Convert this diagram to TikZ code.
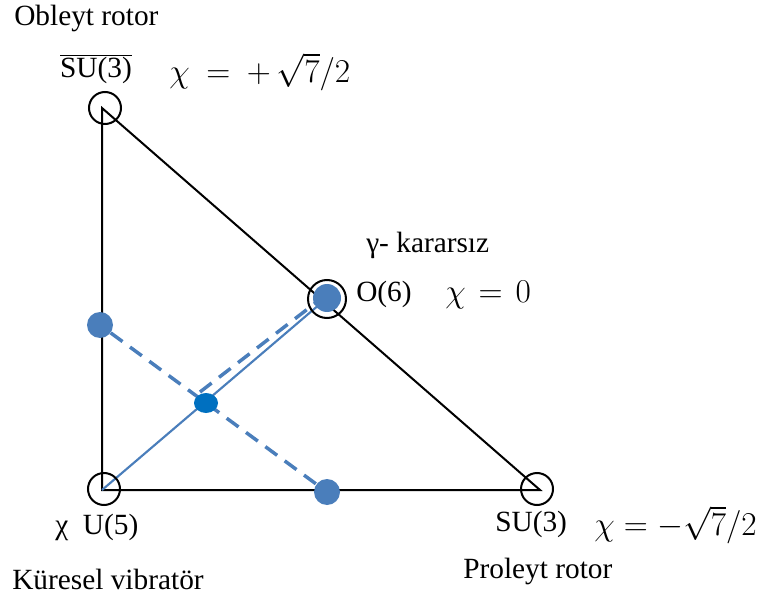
\RequirePackage{fix-cm}
\documentclass[tikz,border=0pt]{standalone}
\usepackage{fontspec}
\setmainfont{Liberation Serif}
\usetikzlibrary{shapes.geometric}
\definecolor{dotblue}{HTML}{4A7EBB}
\definecolor{midblue}{HTML}{0070C0}
\newcommand\wideeq[2][9mu]{$\thickmuskip=#1\relax #2$}
\begin{document}
\begin{tikzpicture}[x=0.75pt,y=-0.75pt,
  ring/.style={draw,circle,line width=1.5pt,minimum size=24pt,inner sep=0pt},
  bigring/.style={draw,circle,line width=1.5pt,minimum size=28.5pt,inner sep=0pt},
  bdot/.style={circle,fill=dotblue,minimum size=19.5pt,inner sep=0pt},
  cdot/.style={ellipse,fill=midblue,minimum width=18pt,minimum height=15pt,inner sep=0pt},
  edge/.style={line width=1.5pt},
  solidblue/.style={draw=dotblue,line width=1.6pt},
  bdash/.style={draw=dotblue,line width=2.6pt,dash pattern=on 11pt off 7pt},
  lab/.style={font=\fontsize{22}{26}\selectfont,inner sep=0pt},
  mlab/.style={font=\fontsize{25}{29}\selectfont,inner sep=0pt}]
\useasboundingbox (0,0) rectangle (760,595);
% vertices
\coordinate (top) at (102,108);
\coordinate (bl) at (102,490);
\coordinate (br) at (540,490);
\coordinate (o6) at (327,298);
\coordinate (d1s) at (200,392);
\coordinate (d1e) at (318,301);
% triangle
\draw[edge] (top) -- (bl) -- (br) -- cycle;
% blue lines
\draw[solidblue] (bl) -- (o6);
\node[bdot] (left) at (100,325) {};
\node[bdot] (bottom) at (327,492) {};
\draw[bdash] (left) -- (bottom);
\draw[bdash] (d1s) -- (d1e);
\node[cdot] (center) at (206,403) {};
\node[bdot,minimum size=21pt] (o6dot) at (o6) {};
% rings
\node[ring] (ringtop) at (105,108) {};
\node[ring] (ringbl) at (104,489) {};
\node[ring] (ringbr) at (537,489) {};
\node[bigring] (ringo6) at (327,299) {};
% labels
\node[lab,anchor=west] (obl) at (14,18) {Obleyt rotor};
\node[lab] (su3bar) at (96,69) {$\overline{\mbox{SU(3)}}$};
\node[mlab,anchor=west] (chi1) at (169,72) {\wideeq{\chi = +\,\sqrt{7}/2}};
\node[lab,anchor=west] (gam) at (366,245) {γ- kararsız};
\node[lab,anchor=west] (o6lab) at (356,294) {O(6)};
\node[mlab,anchor=west] (chi0) at (445,295) {\wideeq[7mu]{\chi = 0}};
\node[lab,anchor=west] (u5) at (55,527) {χ\ \ U(5)};
\node[lab,anchor=west] (kur) at (12,579) {Küresel vibratör};
\node[lab,anchor=west] (su3) at (495,524) {SU(3)};
\node[mlab,anchor=west] (chi2) at (594,525) {\wideeq[5mu]{\chi = -\sqrt{7}/2}};
\node[lab,anchor=west] (pro) at (463,571) {Proleyt rotor};
\end{tikzpicture}
\end{document}
